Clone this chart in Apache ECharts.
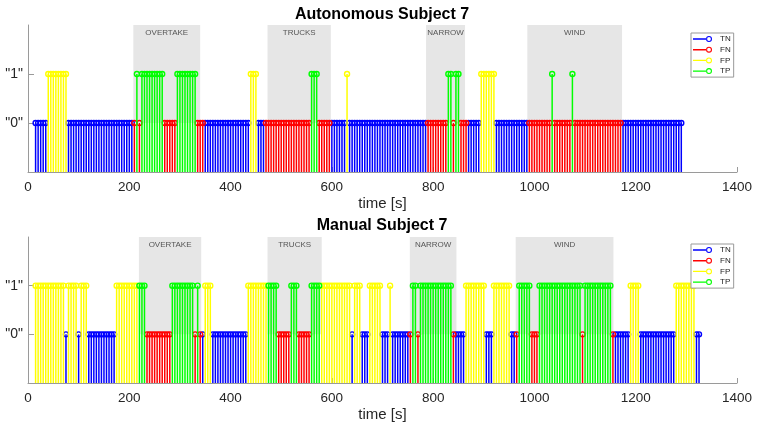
<!DOCTYPE html>
<html>
<head>
<meta charset="utf-8">
<script src="https://cdn.jsdelivr.net/npm/echarts@6/dist/echarts.min.js"></script>
<style>html,body{margin:0;padding:0;background:#fff;}#c{width:759px;height:431px;}</style>
</head>
<body>
<div id="c"></div>
<script>
// ---- data ----
const classes = ['TN', 'FN', 'FP', 'TP'];
const classValue = { TN: 0, FN: 0, FP: 1, TP: 1 };
const classColor = { TN: '#0000ff', FN: '#ff0000', FP: '#ffff00', TP: '#00ff00' };
const sampleStart = 15;   // s, time of first sample
const sampleStep = 5;     // s between samples
// run-length encoded classification per sample: [class, number of samples]
const autoRuns = [['TN',5],['FP',8],['TN',26],['FN',1],['TP',1],['FN',1],['TP',9],['FN',5],['TP',8],['FN',3],
  ['TN',18],['FP',3],['TN',3],['FN',18],['TP',3],['FN',5],['TN',6],['FP',1],['TN',31],['FN',8],['TP',2],['FN',1],
  ['TP',2],['FN',3],['TN',5],['FP',6],['TN',13],['FN',9],['TP',1],['FN',7],['TP',1],['FN',19],['TN',24]];
const manualRuns = [['FP',12],['TN',1],['FP',4],['TN',1],['FP',3],['TN',11],['FP',9],['TP',3],['FN',10],['TP',9],
  ['FN',1],['TP',1],['FN',1],['TN',1],['FP',3],['TN',14],['FP',8],['TP',4],['FN',5],['TP',3],['FN',5],['TP',4],
  ['FP',12],['TN',1],['FP',3],['TN',3],['FP',5],['TN',3],['FP',1],['TN',7],['FN',1],['TP',2],['FN',1],['TP',13],
  ['FN',1],['TN',4],['FP',8],['TN',3],['FP',7],['TN',2],['FN',1],['TP',5],['FN',3],['TP',17],['FN',1],['TP',11],
  ['FN',1],['TN',6],['FP',4],['TN',14],['FP',8],['TN',2]];
const autoRegions = [['OVERTAKE', 208, 340], ['TRUCKS', 473, 598], ['NARROW', 786, 863], ['WIND', 986, 1173]];
const manualRegions = [['OVERTAKE', 219, 342], ['TRUCKS', 473, 580], ['NARROW', 754, 846], ['WIND', 963, 1156]];
const titles = ['Autonomous Subject 7', 'Manual Subject 7'];
const xTicks = [0, 200, 400, 600, 800, 1000, 1200, 1400];
const yTickValues = [0, 1];

// ---- build ----
function expand(runs) {
  const out = { TN: [], FN: [], FP: [], TP: [] };
  let i = 0;
  runs.forEach(([c, n]) => {
    for (let k = 0; k < n; k++) {
      const t = sampleStart + sampleStep * i;
      out[c].push([t, classValue[c]]);
      i++;
    }
  });
  return out;
}
const panels = [expand(autoRuns), expand(manualRuns)];
const regions = [autoRegions, manualRegions];
const FONT = '"Liberation Sans", Arial, Helvetica, sans-serif';
const AX = '#9a9a9a';
const gridTops = [25, 237];
const gridHeights = [147, 146];
const titleTops = [7, 218];

const iconPath = 'path://M0 2.3 L13.2 2.3 L13.2 3.7 L0 3.7 Z M13 3 A3 3 0 1 0 19 3 A3 3 0 1 0 13 3 Z M14.1 3 A1.9 1.9 0 1 1 17.9 3 A1.9 1.9 0 1 1 14.1 3 Z';

function stemRender(color) {
  return function (params, api) {
    const t = api.value(0), v = api.value(1);
    const b = api.coord([t, -1]);
    const p = api.coord([t, v]);
    return {
      type: 'group',
      children: [
        { type: 'line', shape: { x1: b[0], y1: b[1], x2: p[0], y2: p[1] }, style: { stroke: color, lineWidth: 1.5 } },
        { type: 'circle', shape: { cx: p[0], cy: p[1], r: 2.5 }, style: { fill: 'none', stroke: color, lineWidth: 1.4 } }
      ]
    };
  };
}

const grid = [], xAxis = [], yAxis = [], series = [], legend = [], title = [];
[0, 1].forEach(g => {
  grid.push({ left: 28, width: 709, top: gridTops[g], height: gridHeights[g] });
  title.push({ text: titles[g], left: 382, textAlign: 'center', top: titleTops[g], padding: 0,
    textStyle: { fontFamily: FONT, fontSize: 16, fontWeight: 'bold', color: '#000' } });
  xAxis.push({ gridIndex: g, type: 'value', min: xTicks[0], max: xTicks[xTicks.length - 1], interval: 200,
    name: 'time [s]', nameLocation: 'middle', nameGap: 24,
    nameTextStyle: { fontFamily: FONT, fontSize: 15, color: '#262626' },
    axisLine: { show: true, onZero: false, lineStyle: { color: AX, width: 1 } },
    axisTick: { show: true, inside: true, length: 5, lineStyle: { color: AX } },
    axisLabel: { fontFamily: FONT, fontSize: 13.5, color: '#262626', margin: 8, formatter: v => String(v) },
    splitLine: { show: false } });
  yAxis.push({ gridIndex: g, type: 'value', min: -1, max: 2, interval: 1,
    axisLine: { show: true, onZero: false, lineStyle: { color: AX, width: 1 } },
    axisTick: { show: true, inside: true, length: 6, customValues: yTickValues, lineStyle: { color: AX } },
    axisLabel: { fontFamily: FONT, fontSize: 14, color: '#262626', margin: 5, customValues: yTickValues,
      formatter: v => '"' + v + '"' },
    splitLine: { show: false } });
  series.push({ type: 'line', name: 'regions' + g, xAxisIndex: g, yAxisIndex: g, data: [], silent: true,
    markArea: { silent: true, itemStyle: { color: '#e6e6e6' },
      label: { show: true, position: 'insideTop', distance: 4, fontFamily: FONT, fontSize: 8, color: '#555' },
      data: regions[g].map(([name, s, e]) => [{ name: name, xAxis: s, yAxis: 0 }, { xAxis: e, yAxis: 2 }]) } });
  classes.forEach(c => {
    series.push({ type: 'custom', name: c, xAxisIndex: g, yAxisIndex: g, data: panels[g][c],
      itemStyle: { color: classColor[c] }, renderItem: stemRender(classColor[c]), silent: true });
  });
  legend.push({ orient: 'vertical', left: 691, top: gridTops[g] + 8 + (g ? -1 : 0), padding: [2, 3, 2, 2],
    backgroundColor: '#fff', borderColor: '#999', borderWidth: 1, borderRadius: 0,
    itemWidth: 19, itemHeight: 6, itemGap: 2.7, selectedMode: false,
    textStyle: { fontFamily: FONT, fontSize: 8, lineHeight: 8, color: '#222', padding: [0, 0, 0, 3] },
    data: classes.map(c => ({ name: c, icon: iconPath, itemStyle: { color: classColor[c], borderWidth: 0 } })) });
});

const chart = echarts.init(document.getElementById('c'), null, { renderer: 'canvas' });
chart.setOption({ animation: false, backgroundColor: '#fff', title, grid, xAxis, yAxis, series, legend });
</script>
</body>
</html>
